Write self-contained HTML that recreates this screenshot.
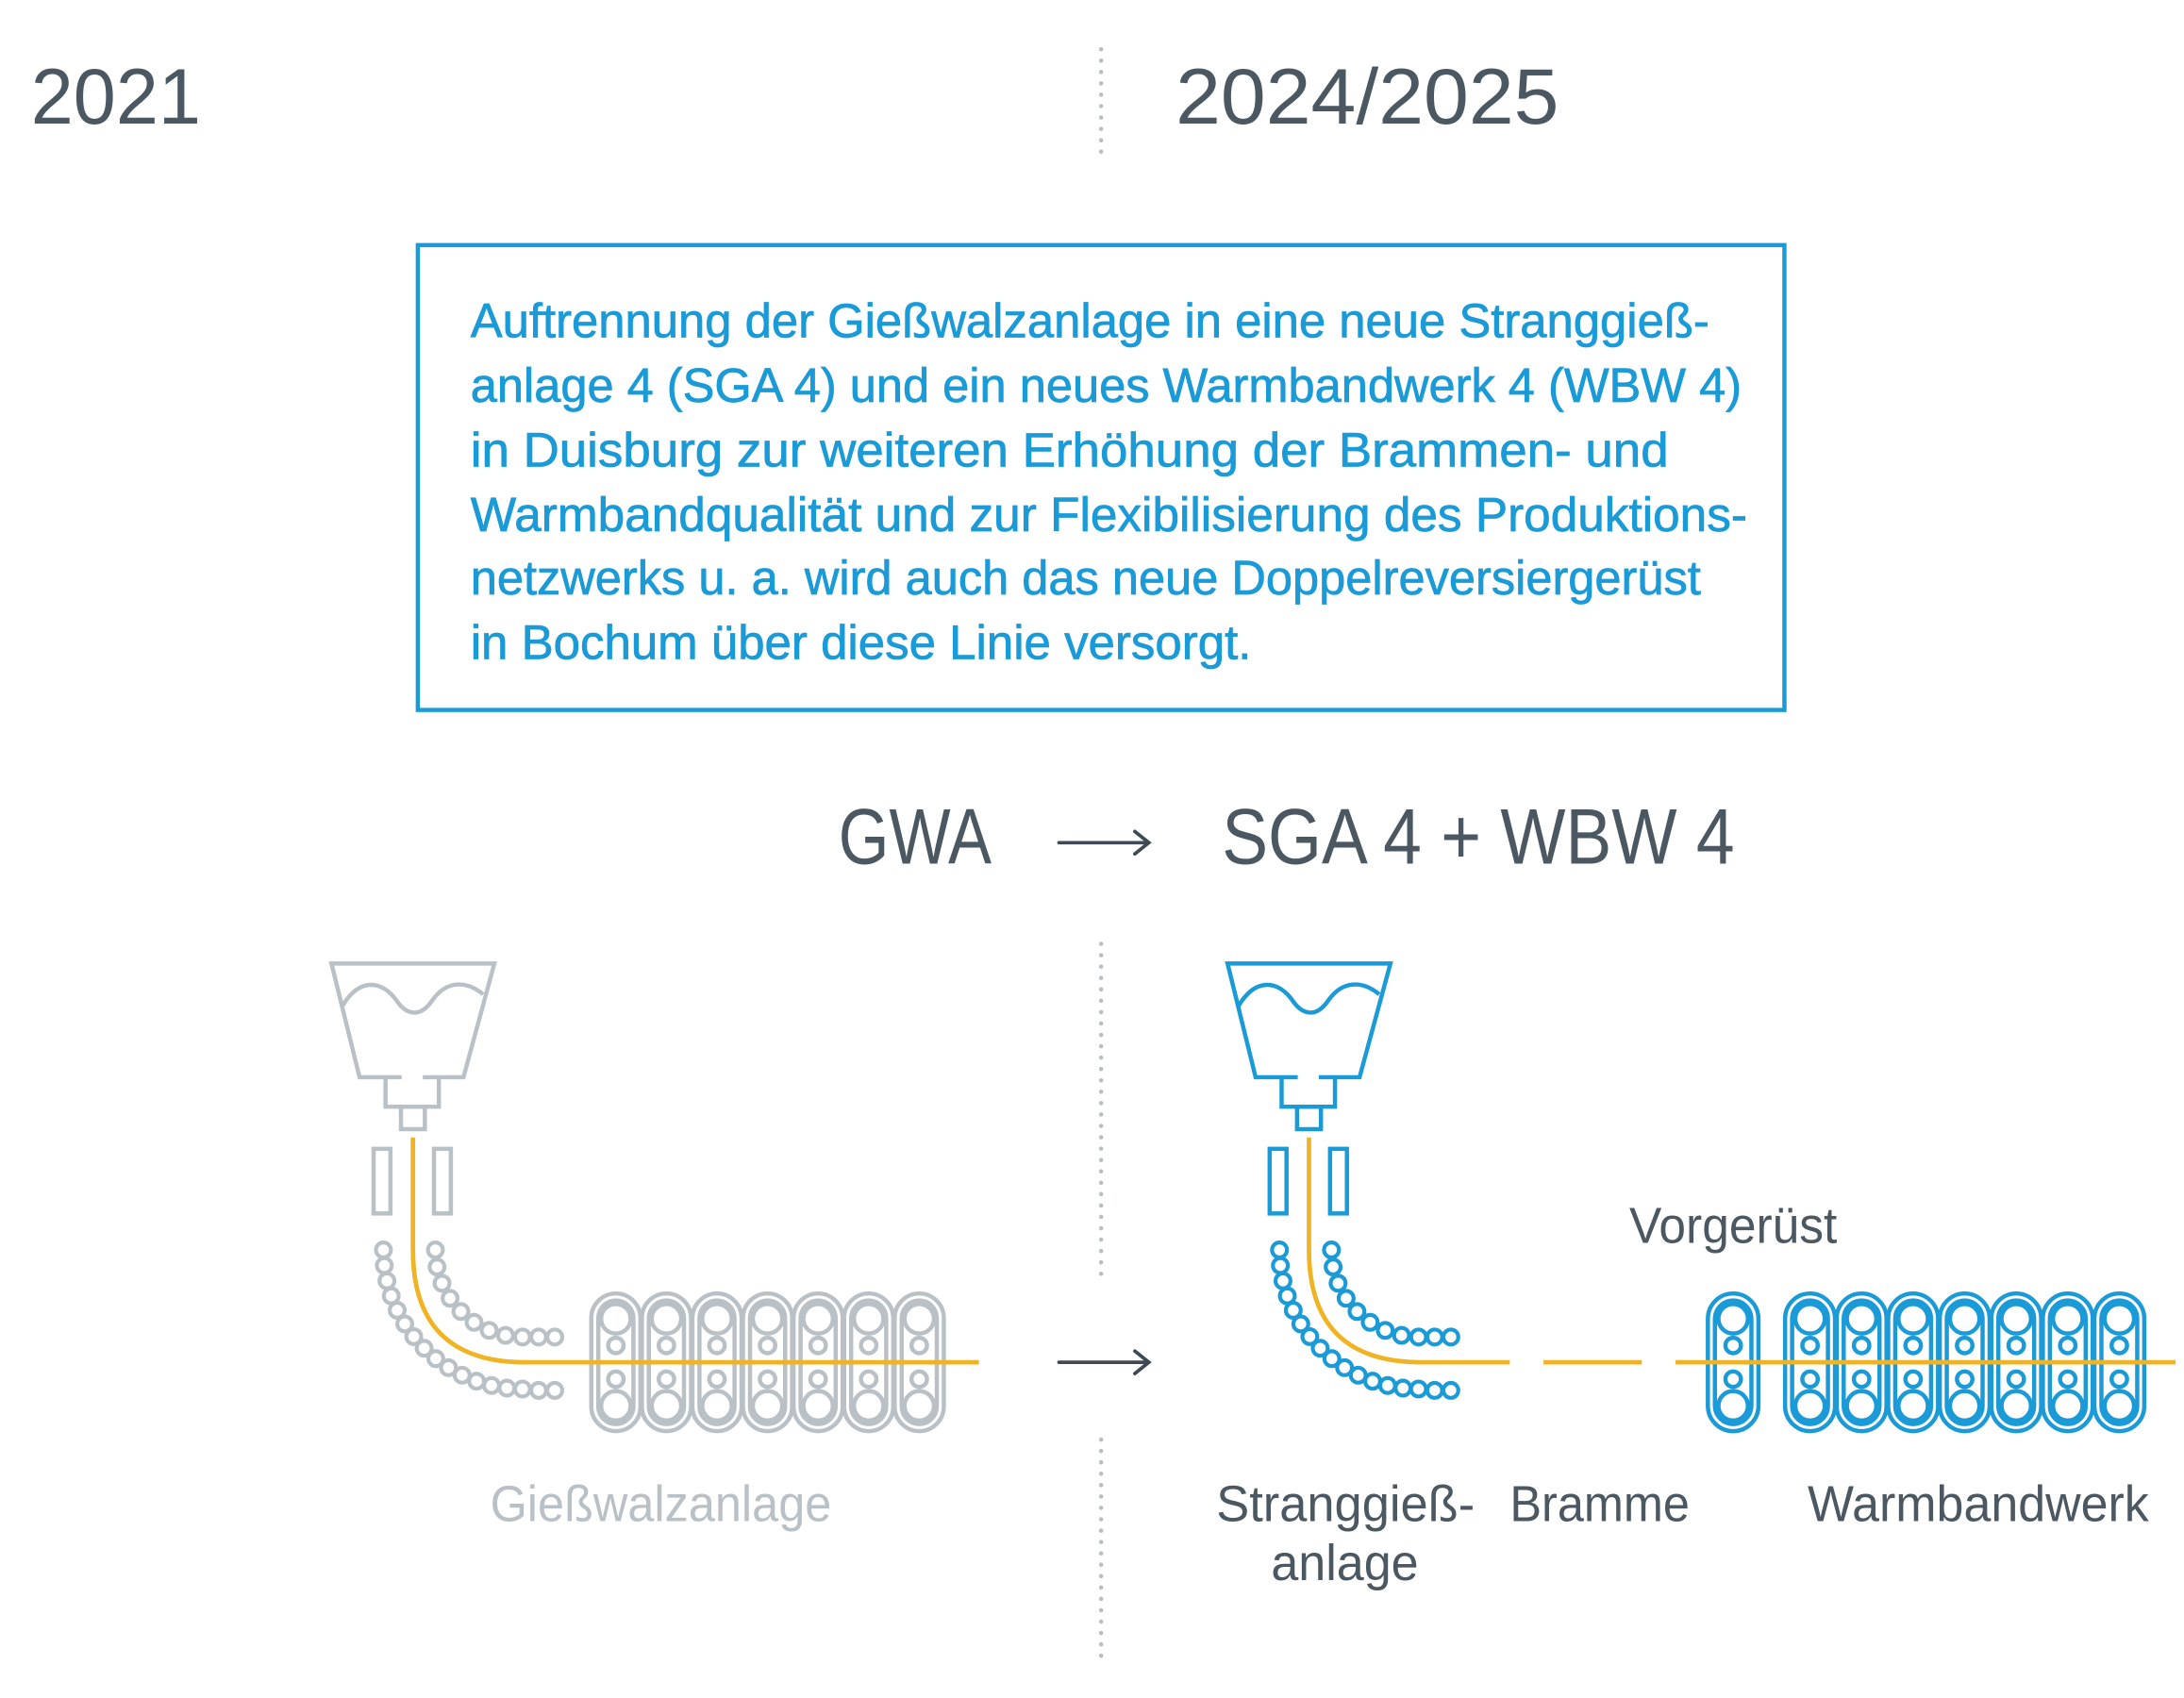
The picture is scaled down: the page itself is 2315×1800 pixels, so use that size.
<!DOCTYPE html>
<html><head><meta charset="utf-8">
<style>
html,body{margin:0;padding:0;background:#fff;}
svg{display:block;}
text{font-family:"Liberation Sans Narrow","Liberation Sans",sans-serif;}
</style></head>
<body>
<svg id="s" width="2315" height="1800" viewBox="0 0 1555 1209" xmlns="http://www.w3.org/2000/svg">
<rect width="1555" height="1209" fill="#fff"/>
<g fill="#4b5761">
<text x="22" y="88" font-size="56" textLength="121" lengthAdjust="spacingAndGlyphs">2021</text>
<text x="837" y="88" font-size="56" textLength="273" lengthAdjust="spacingAndGlyphs">2024/2025</text>
<text x="597" y="615" font-size="56" textLength="109" lengthAdjust="spacingAndGlyphs">GWA</text>
<text x="870" y="615" font-size="56" textLength="365" lengthAdjust="spacingAndGlyphs">SGA 4 + WBW 4</text>
<text x="1160" y="885" font-size="36" textLength="148" lengthAdjust="spacingAndGlyphs">Vorgerüst</text>
<text x="866" y="1083" font-size="36" textLength="184" lengthAdjust="spacingAndGlyphs">Stranggieß-</text>
<text x="905" y="1125" font-size="36" textLength="105" lengthAdjust="spacingAndGlyphs">anlage</text>
<text x="1075" y="1083" font-size="36" textLength="128" lengthAdjust="spacingAndGlyphs">Bramme</text>
<text x="1287" y="1083" font-size="36" textLength="243" lengthAdjust="spacingAndGlyphs">Warmbandwerk</text>
</g>
<text x="349" y="1083" font-size="36" fill="#b9c1c7" textLength="243" lengthAdjust="spacingAndGlyphs">Gießwalzanlage</text>
<g stroke="#b7bfc5" stroke-width="3" stroke-dasharray="0.1 8" stroke-linecap="round">
<line x1="784" y1="35" x2="784" y2="108"/>
<line x1="784" y1="672" x2="784" y2="915"/>
<line x1="784" y1="1025" x2="784" y2="1185"/>
</g>
<rect x="297.5" y="174.5" width="973" height="331" fill="none" stroke="#1a9ad6" stroke-width="3"/>
<g fill="#1a9ad6" font-size="34.5" stroke="#1a9ad6" stroke-width="0.5">
<text x="335" y="240" textLength="882" lengthAdjust="spacingAndGlyphs">Auftrennung der Gießwalzanlage in eine neue Stranggieß-</text>
<text x="335" y="286" textLength="905" lengthAdjust="spacingAndGlyphs">anlage 4 (SGA 4) und ein neues Warmbandwerk 4 (WBW 4)</text>
<text x="335" y="332" textLength="853" lengthAdjust="spacingAndGlyphs">in Duisburg zur weiteren Erhöhung der Brammen- und</text>
<text x="335" y="378" textLength="909" lengthAdjust="spacingAndGlyphs">Warmbandqualität und zur Flexibilisierung des Produktions-</text>
<text x="335" y="423" textLength="876" lengthAdjust="spacingAndGlyphs">netzwerks u. a. wird auch das neue Doppelreversiergerüst</text>
<text x="335" y="469" textLength="556" lengthAdjust="spacingAndGlyphs">in Bochum über diese Linie versorgt.</text>
</g>
<g stroke="#3f4a54" stroke-width="2.5" fill="none" stroke-linecap="round">
<path d="M754 600 H818 M808 592 L818 600 L808 608"/>
<path d="M754 970 H818 M808 962 L818 970 L808 978"/>
</g>
<g id="dg"></g>
</svg>
<script>
(function(){
var NS="http://www.w3.org/2000/svg",g=document.getElementById('dg');
function el(n,a){var e=document.createElementNS(NS,n);for(var k in a)e.setAttribute(k,a[k]);g.appendChild(e);return e;}
function caster(dx,c){
 var s={fill:'none',stroke:c,'stroke-width':3,'stroke-linejoin':'miter'};
 el('path',Object.assign({d:'M'+(286+dx)+' 767 H'+(256+dx)+' L'+(236+dx)+' 686 H'+(352+dx)+' L'+(330+dx)+' 767 H'+(301+dx)},s));
 el('path',Object.assign({d:'M'+(244+dx)+' 716 C'+(256+dx)+' 696 '+(272+dx)+' 698 '+(282+dx)+' 712 C'+(290+dx)+' 724 '+(300+dx)+' 724 '+(308+dx)+' 712 C'+(318+dx)+' 698 '+(332+dx)+' 698 '+(344+dx)+' 708'},s));
 el('path',Object.assign({d:'M'+(274.5+dx)+' 767 V788 H'+(312.5+dx)+' V767'},s));
 el('rect',Object.assign({x:285.5+dx,y:788,width:17,height:16},s));
 el('rect',Object.assign({x:266+dx,y:818,width:12,height:46},s));
 el('rect',Object.assign({x:309+dx,y:818,width:12,height:46},s));
 var cx=372+dx,cy=890;
 [[62,952],[99,990]].forEach(function(p){
  var R=p[0],n=Math.round(Math.PI/2*R/11.5);
  for(var i=0;i<=n;i++){var a=Math.PI-(Math.PI/2)*i/n;
   el('circle',{cx:cx+R*Math.cos(a),cy:cy+R*Math.sin(a),r:5.3,fill:'none',stroke:c,'stroke-width':2.8});}
  for(var x=cx+11.5;x<=404+dx;x+=11.5){el('circle',{cx:x,cy:p[1],r:5.3,fill:'none',stroke:c,'stroke-width':2.8});}
 });
}
function stand(x,c,w){
 var s={fill:'none',stroke:c,'stroke-width':3};
 el('rect',Object.assign({x:x,y:921,width:w,height:98,rx:w/2},s));
 el('rect',Object.assign({x:x+5,y:926,width:w-10,height:88,rx:(w-10)/2},s));
 var m=x+w/2;
 el('circle',Object.assign({cx:m,cy:939,r:10.5},s));
 el('circle',Object.assign({cx:m,cy:958,r:5.5},s));
 el('circle',Object.assign({cx:m,cy:982,r:5.5},s));
 el('circle',Object.assign({cx:m,cy:1001,r:10.5},s));
}
var GR='#b9c1c7',BL='#1a9ad6',YE='#f0b323';
caster(0,GR);caster(638,BL);
for(var i=0;i<7;i++)stand(421+i*36,GR,35);
stand(1216,BL,36);
for(var i=0;i<7;i++)stand(1271+i*36.7,BL,35.5);
var y={fill:'none',stroke:YE,'stroke-width':3.2};
el('path',Object.assign({d:'M294 810 V890 Q294 970 374 970 H697'},y));
el('path',Object.assign({d:'M932 810 V890 Q932 970 1012 970 H1075'},y));
el('path',Object.assign({d:'M1099 970 H1169 M1193 970 H1549'},y));
})();
</script>
</body></html>
